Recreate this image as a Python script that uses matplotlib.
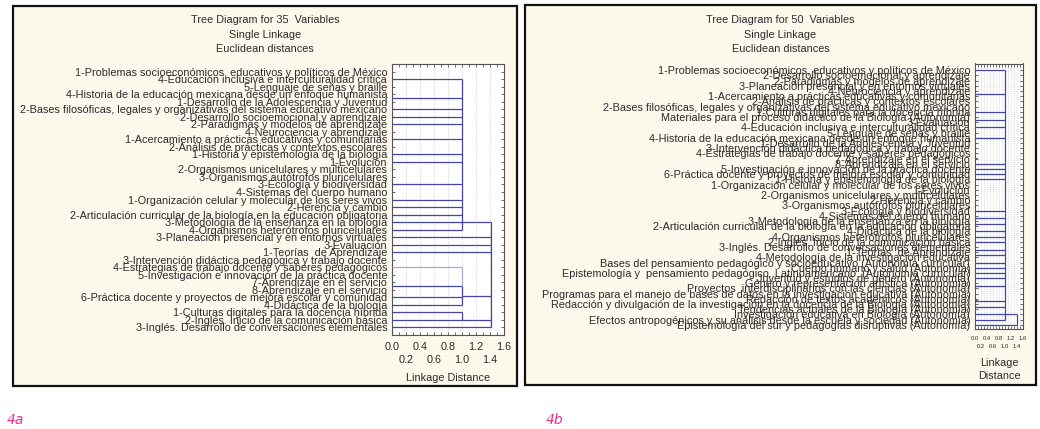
import matplotlib
matplotlib.use("Agg")
import matplotlib.pyplot as plt
from matplotlib.patches import Rectangle
import numpy as np

plt.rcParams['font.family'] = ['Liberation Sans', 'DejaVu Sans']

# ---- data: panel 4a (35 variables) ----
labels_a = [
    "1-Problemas socioeconómicos, educativos y políticos de México",
    "4-Educación inclusiva e interculturalidad crítica",
    "5-Lenguaje de señas y braille",
    "4-Historia de la educación mexicana desde un enfoque humanista",
    "1-Desarrollo de la Adolescencia y Juventud",
    "2-Bases filosóficas, legales y organizativas del sistema educativo mexicano",
    "2-Desarrollo socioemocional y aprendizaje",
    "2-Paradigmas y modelos de aprendizaje",
    "4-Neurociencia y aprendizaje",
    "1-Acercamiento a prácticas educativas y comunitarias",
    "2-Análisis de prácticas y contextos escolares",
    "1-Historia y epistemología de la biología",
    "1-Evolución",
    "2-Organismos unicelulares y multicelulares",
    "3-Organismos autótrofos pluricelulares",
    "3-Ecología y biodiversidad",
    "4-Sistemas del cuerpo humano",
    "1-Organización celular y molecular de los seres vivos",
    "2-Herencia y cambio",
    "2-Articulación curricular de la biología en la educación obligatoria",
    "3-Metodología de la enseñanza en la biología",
    "4-Organismos heterótrofos pluricelulares",
    "3-Planeación presencial y en entornos virtuales",
    "3-Evaluación",
    "1-Teorías  de Aprendizaje",
    "3-Intervención didáctica pedagógica y trabajo docente",
    "4-Estrategias de trabajo docente y saberes pedagógicos",
    "5-Investigación e innovación de la práctica docente",
    "7-Aprendizaje en el servicio",
    "8-Aprendizaje en el servicio",
    "6-Práctica docente y proyectos de mejora escolar y comunidad",
    "4-Didáctica de la biología",
    "1-Culturas digitales para la docencia híbrida",
    "2-Inglés. Inicio de la comunicación básica",
    "3-Inglés. Desarrollo de conversaciones elementales",
]
# horizontal links: (row, from distance, to distance)
links_a = [
    (1, 0, 1.0), (3.5, 0, 1.0), (5, 0, 1.0), (6, 0, 1.0), (7, 0, 1.0),
    (9, 0, 1.0), (11, 0, 1.0), (12, 0, 1.0), (15, 0, 1.0), (17, 0, 1.0),
    (18, 0, 1.0), (19, 0, 1.0), (20, 0, 1.414), (21, 0, 1.0),
    (22, 0, 1.414), (23, 0, 1.414), (24, 0, 1.414),
    (28.5, 0, 1.0), (29.8, 1.0, 1.414), (30, 0, 1.0), (31, 0, 1.0),
    (32, 0, 1.0), (33, 0, 1.414), (34, 0, 1.414),
]
faint_links_a = [(26, 0, 1.0)]
# vertical joins: (distance, first row, last row)
joins_a = [(1.0, 1, 21), (1.0, 28.5, 31), (1.0, 32, 33), (1.414, 20, 34)]
faint_joins_a = [(1.0, 26, 28.5)]

# ---- data: panel 4b (50 variables) ----
labels_b = [
    "1-Problemas socioeconómicos, educativos y políticos de México",
    "2-Desarrollo socioemocional y aprendizaje",
    "2-Paradigmas y modelos de aprendizaje",
    "3-Planeación presencial y en entornos virtuales",
    "4-Neurociencia y aprendizaje",
    "1-Acercamiento a prácticas educativas y comunitarias",
    "2-Análisis de prácticas y contextos escolares",
    "2-Bases filosóficas, legales y organizativas del sistema educativo mexicano",
    "1-Culturas digitales para la docencia híbrida",
    "Materiales para el proceso didáctico de la Biología (Autonomía)",
    "3-Evaluación",
    "4-Educación inclusiva e interculturalidad crítica",
    "5-Lenguaje de señas y braille",
    "4-Historia de la educación mexicana desde un enfoque humanista",
    "1-Desarrollo de la Adolescencia y Juventud",
    "3-Intervención didáctica pedagógica y trabajo docente",
    "4-Estrategias de trabajo docente y saberes pedagógicos",
    "7-Aprendizaje en el servicio",
    "8-Aprendizaje en el servicio",
    "5-Investigación e innovación de la práctica docente",
    "6-Práctica docente y proyectos de mejora escolar y comunidad",
    "1-Historia y epistemología de la biología",
    "1-Organización celular y molecular de los seres vivos",
    "1-Evolución",
    "2-Organismos unicelulares y multicelulares",
    "2-Herencia y cambio",
    "3-Organismos autótrofos pluricelulares",
    "3-Ecología y biodiversidad",
    "4-Sistemas del cuerpo humano",
    "3-Metodología de la enseñanza en la biología",
    "2-Articulación curricular de la biología en la educación obligatoria",
    "4-Didáctica de la biología",
    "4-Organismos heterótrofos pluricelulares",
    "2-Inglés. Inicio de la comunicación básica",
    "3-Inglés. Desarrollo de conversaciones elementales",
    "1-Teorías  de Aprendizaje",
    "4-Metodología de la investigación educativa",
    "Bases del pensamiento pedagógico y socioeducativo (Autonomía curricular)",
    "Cuerpo humano y salud (Autonomía)",
    "Epistemología y  pensamiento pedagógico. Latinoamericano. (Autonomía curricular)",
    "Juventud y estudios de género (Autonomía)",
    "Género y representación artística (Autonomía)",
    "Proyectos  interdisciplinarios con las ciencias (Autonomía)",
    "Programas para el manejo de bases de datos en la investigación educativa (Autonomía)",
    "Redacción de textos académicos (Autonomía)",
    "Redacción y divulgación de la investigación en la docencia de la Biología (Autonomía)",
    "Tendencias actuales de la Biología (Autonomía)",
    "Investigación educativa en Biología (Autonomía)",
    "Efectos antropogénicos y su análisis desde la escuela y sociedad (Autonomía)",
    "Epistemología del sur y pedagogías disruptivas (Autonomía)",
]
links_b = [
    (0, 0, 1.0), (4.5, 0, 1.0), (8, 0, 1.0), (9.5, 0, 1.0), (11, 0, 1.0),
    (13, 0, 1.0), (16.8, 0, 0.08), (18, 0, 1.0), (19, 0, 1.0), (20, 0, 1.0),
    (21, 0, 1.0), (27, 0, 1.0), (28.5, 0, 1.0), (29.5, 0, 1.0), (31, 0, 1.0),
    (32, 0, 1.0), (33, 0, 1.0), (34.5, 0, 1.0), (35.5, 0, 1.0), (37, 0, 1.0),
    (38, 0, 1.0), (39, 0, 1.0), (40, 0, 1.0), (41.5, 0, 1.0), (44.2, 0, 0.08),
    (44.5, 0, 1.0), (45.5, 0, 1.0), (47, 0, 1.414), (48, 0, 1.0), (49, 0, 1.414),
]
joins_b = [(1.0, 0, 48), (1.414, 47, 49)]

ticks_row1 = [0.0, 0.4, 0.8, 1.2, 1.6]
ticks_row2 = [0.2, 0.6, 1.0, 1.4]

W, H = 1040, 429
LINE = '#4545a8'
FAINT = '#a9a9d6'
TXT = '#2b2b2b'
CREAM = '#fcf8ec'
FS = 7.8


def px_rect(x0, y0, x1, y1):
    return [x0 / W, 1 - y1 / H, (x1 - x0) / W, (y1 - y0) / H]


def draw_tree(ax, labels, links, joins, ylim, grid_step, tick_fs, row1_off, row2_off,
              faint_links=(), faint_joins=()):
    n = len(labels)
    for r, x0, x1 in links:
        ax.hlines(r, x0, x1, color=LINE, lw=0.9, zorder=3)
    for x, r0, r1 in joins:
        ax.vlines(x, r0, r1, color=LINE, lw=0.9, zorder=3)
    for r, x0, x1 in faint_links:
        ax.hlines(r, x0, x1, color=FAINT, lw=0.9, zorder=3)
    for x, r0, r1 in faint_joins:
        ax.vlines(x, r0, r1, color=FAINT, lw=0.9, zorder=3)

    ax.set_xlim(0, 1.6)
    ax.set_ylim(*ylim)
    ax.set_yticks(range(n))
    ax.set_yticklabels(labels, fontsize=FS, color=TXT)
    ax.set_xticks(np.arange(0, 1.61, 0.1))
    ax.set_xticklabels([])
    ax.tick_params(axis='both', direction='in', length=2.2, width=0.6,
                   top=True, right=True, colors='#555555')
    ax.tick_params(axis='y', pad=3.5, labelcolor=TXT)
    for g in np.arange(grid_step, 1.6 - 1e-6, grid_step):
        ax.axvline(g, color='#c8c8c8', lw=0.6, ls=(0, (1, 1.5)), zorder=1)
    for s in ax.spines.values():
        s.set_color('#555555')
        s.set_linewidth(0.8)
    xt = ax.get_xaxis_transform()
    for v in ticks_row1:
        ax.annotate(f"{v:.1f}", xy=(v, 0), xycoords=xt, xytext=(0, -row1_off * 0.72),
                    textcoords='offset points', ha='center', va='center',
                    fontsize=tick_fs, color=TXT)
    for v in ticks_row2:
        ax.annotate(f"{v:.1f}", xy=(v, 0), xycoords=xt, xytext=(0, -row2_off * 0.72),
                    textcoords='offset points', ha='center', va='center',
                    fontsize=tick_fs, color=TXT)


fig = plt.figure(figsize=(W / 100, H / 100), dpi=100)
fig.patch.set_facecolor('white')

# framed boxes
for x0, y0, x1, y1 in [(13, 6, 517, 386), (525, 5, 1036, 385)]:
    fig.add_artist(Rectangle((x0 / W, 1 - y1 / H), (x1 - x0) / W, (y1 - y0) / H,
                             transform=fig.transFigure, facecolor=CREAM,
                             edgecolor='#111111', lw=1.6, zorder=0))

# titles
for cx in [(13 + 517) / 2, (525 + 1036) / 2]:
    nvar = "35" if cx < 520 else "50"
    fig.text(cx / W, 1 - 20 / H, f"Tree Diagram for {nvar}  Variables", ha='center',
             va='center', fontsize=FS, color=TXT)
    fig.text(cx / W, 1 - 34.5 / H, "Single Linkage", ha='center', va='center',
             fontsize=FS, color=TXT)
    fig.text(cx / W, 1 - 49 / H, "Euclidean distances", ha='center', va='center',
             fontsize=FS, color=TXT)

ax_a = fig.add_axes(px_rect(392, 64, 504, 335))
draw_tree(ax_a, labels_a, links_a, joins_a, (35, -1), 0.2, FS, 12, 25,
          faint_links_a, faint_joins_a)
ax_a.annotate("Linkage Distance", xy=(0.5, 0), xycoords='axes fraction',
              xytext=(0, -43 * 0.72), textcoords='offset points', ha='center',
              va='center', fontsize=FS, color=TXT)

ax_b = fig.add_axes(px_rect(975, 63.5, 1023, 328.5))
draw_tree(ax_b, labels_b, links_b, joins_b, (49.7, -1.3), 0.1, 4.2, 10.5, 17.5)
ax_b.annotate("Linkage", xy=(0.5, 0), xycoords='axes fraction',
              xytext=(0, -34.5 * 0.72), textcoords='offset points', ha='center',
              va='center', fontsize=FS, color=TXT)
ax_b.annotate("Distance", xy=(0.5, 0), xycoords='axes fraction',
              xytext=(0, -47.5 * 0.72), textcoords='offset points', ha='center',
              va='center', fontsize=FS, color=TXT)

# panel tags
fig.text(7 / W, 1 - 420 / H, "4a", ha='left', va='center', fontsize=10,
         style='italic', color='#e3358b', family='DejaVu Sans')
fig.text(546 / W, 1 - 420 / H, "4b", ha='left', va='center', fontsize=10,
         style='italic', color='#e3358b', family='DejaVu Sans')

fig.savefig("out.png", dpi=100, facecolor='white')
